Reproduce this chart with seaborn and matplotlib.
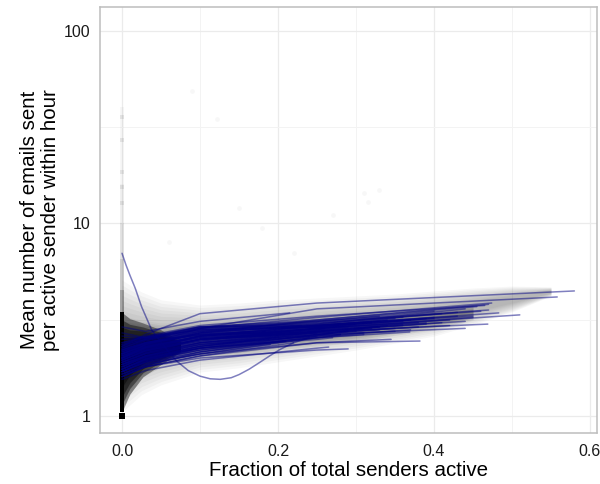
import numpy as np
import pandas as pd
import matplotlib
matplotlib.use("Agg")
import matplotlib.pyplot as plt
from matplotlib.ticker import FixedLocator, NullFormatter
import seaborn as sns

# ---- point cloud: hourly observations (fraction active vs. mean emails) ----
cloud_x = [0.0, 0.01, 0.025, 0.05, 0.1, 0.15, 0.2, 0.25, 0.3, 0.35, 0.4, 0.45, 0.5, 0.55]
halo_lo = [1.05, 1.14, 1.29, 1.45, 1.69, 1.78, 1.91, 2.05, 2.20, 2.39, 2.60, 2.97, 3.47, 4.20]
halo_hi = [5.09, 4.79, 4.41, 4.01, 3.77, 3.86, 4.01, 4.10, 4.20, 4.30, 4.46, 4.62, 4.73, 4.68]

core_x = [0.0, 0.01, 0.025, 0.05, 0.1, 0.15, 0.2, 0.25, 0.3, 0.35, 0.4, 0.45]
core_lo = [1.10, 1.29, 1.58, 1.80, 2.00, 2.07, 2.20, 2.31, 2.42, 2.63, 2.80, 3.15]
core_hi = [3.43, 3.23, 3.08, 2.97, 3.08, 3.15, 3.23, 3.31, 3.39, 3.47, 3.64, 3.77]

funnel_x = [0.0, 0.01, 0.027, 0.05, 0.075]
funnel_lo = [1.05, 1.30, 1.60, 1.85, 2.15]
funnel_hi = [3.45, 3.20, 3.04, 2.80, 2.45]

# hours where almost no sender was active pile up at x = 0
column_edges = [3.4, 4.5, 6.5, 10.0, 16.0, 40.0]
column_dots_y = [35.7, 18.5, 12.8, 27.0, 15.5]
stray_x = [0.09, 0.122, 0.31, 0.315, 0.33, 0.27, 0.06, 0.18, 0.22, 0.15]
stray_y = [49.0, 35.0, 14.4, 12.9, 15.0, 11.0, 8.0, 9.5, 7.0, 12.0]

# ---- smoothed fit for each group ----
knot_x = [0.0, 0.03, 0.1, 0.25]
line_end_x = [0.58, 0.558, 0.474, 0.470, 0.465, 0.510, 0.483, 0.469, 0.382, 0.290,
              0.369, 0.430, 0.410, 0.400, 0.390, 0.370, 0.360, 0.350, 0.340, 0.330,
              0.320, 0.310, 0.300, 0.290, 0.280, 0.270, 0.265, 0.260, 0.250, 0.240,
              0.230, 0.215, 0.210, 0.200, 0.190, 0.180, 0.170, 0.450, 0.440, 0.420,
              0.455, 0.400, 0.345, 0.310, 0.280, 0.330, 0.380, 0.360, 0.440, 0.470,
              0.420, 0.390, 0.360, 0.330, 0.310, 0.280, 0.260, 0.240, 0.220, 0.200,
              0.350, 0.370, 0.400, 0.440, 0.460, 0.300, 0.290, 0.270, 0.340, 0.380,
              0.410, 0.320, 0.250, 0.230, 0.210, 0.190, 0.360, 0.430, 0.310, 0.270,
              0.390, 0.350, 0.450, 0.330, 0.220]
line_y0 = [2.30, 2.00, 2.20, 2.10, 2.40, 1.90, 1.95, 1.80, 1.70, 1.65,
           1.85, 2.00, 2.10, 2.25, 1.90, 2.00, 1.75, 2.15, 1.85, 2.50,
           1.95, 1.60, 2.05, 1.90, 2.70, 1.70, 1.55, 2.20, 2.00, 1.85,
           2.30, 2.90, 1.75, 2.05, 1.65, 2.20, 1.90, 1.85, 2.05, 1.75,
           2.30, 2.60, 1.60, 2.35, 1.80, 2.10, 2.20, 1.95, 1.70, 2.15,
           2.05, 1.80, 2.10, 1.70, 2.00, 1.85, 2.15, 1.75, 2.00, 1.90,
           1.95, 1.70, 2.10, 1.95, 2.25, 1.80, 2.10, 1.95, 2.25, 1.85,
           1.75, 2.20, 1.80, 2.10, 1.70, 2.00, 2.35, 2.15, 1.65, 2.05,
           2.00, 1.75, 2.00, 2.40, 1.60]
line_y03 = [2.65, 2.35, 2.45, 2.35, 2.60, 2.15, 2.20, 2.05, 1.88, 1.80,
            2.02, 2.30, 2.40, 2.50, 2.12, 2.25, 1.98, 2.38, 2.08, 2.55,
            2.18, 1.82, 2.28, 2.10, 2.55, 1.92, 1.72, 2.40, 2.20, 2.05,
            2.52, 2.75, 1.95, 2.28, 1.85, 2.40, 2.10, 2.12, 2.35, 1.98,
            2.55, 2.55, 1.80, 2.50, 2.00, 2.30, 2.40, 2.18, 1.92, 2.40,
            2.28, 2.05, 2.35, 1.95, 2.22, 2.05, 2.38, 1.95, 2.25, 2.12,
            2.18, 1.90, 2.35, 2.18, 2.50, 2.02, 2.32, 2.15, 2.48, 2.05,
            1.97, 2.45, 2.02, 2.32, 1.90, 2.22, 2.58, 2.40, 1.85, 2.25,
            2.25, 1.98, 2.28, 2.55, 1.80]
line_y10 = [3.40, 2.85, 2.85, 2.70, 2.95, 2.50, 2.60, 2.35, 2.10, 2.00,
            2.25, 2.70, 2.80, 2.85, 2.45, 2.60, 2.30, 2.70, 2.40, 2.90,
            2.50, 2.15, 2.60, 2.40, 2.80, 2.25, 1.95, 2.70, 2.50, 2.35,
            2.90, 3.10, 2.20, 2.60, 2.10, 2.65, 2.35, 2.50, 2.75, 2.30,
            2.90, 2.80, 2.05, 2.75, 2.25, 2.55, 2.65, 2.50, 2.20, 2.75,
            2.55, 2.40, 2.65, 2.25, 2.50, 2.35, 2.65, 2.20, 2.55, 2.40,
            2.45, 2.15, 2.65, 2.45, 2.85, 2.30, 2.60, 2.40, 2.80, 2.30,
            2.25, 2.75, 2.30, 2.60, 2.15, 2.50, 2.90, 2.70, 2.10, 2.50,
            2.55, 2.25, 2.60, 2.85, 2.05]
line_y25 = [3.86, 3.60, 3.25, 3.15, 3.30, 2.85, 2.95, 2.75, 2.40, 2.20,
            2.55, 3.00, 3.05, 3.10, 2.85, 2.90, 2.75, 2.95, 2.80, 3.10,
            2.70, 2.55, 2.85, 2.65, 2.90, 2.50, 2.25, 2.80, np.nan, np.nan,
            np.nan, np.nan, np.nan, np.nan, np.nan, np.nan, np.nan, 2.85, 3.00, 2.70,
            3.15, 2.95, 2.40, 2.90, 2.55, 2.75, 2.85, 2.80, 2.65, 3.10,
            2.85, 2.75, 2.90, 2.65, 2.75, 2.60, 2.75, np.nan, np.nan, np.nan,
            2.70, 2.60, 2.90, 2.80, 3.05, 2.65, 2.80, 2.65, 2.95, 2.70,
            2.75, 2.90, np.nan, np.nan, np.nan, np.nan, 3.00, 2.95, 2.55, 2.72,
            2.85, 2.62, 2.95, 2.95, np.nan]
line_end_y = [4.46, 4.15, 3.86, 3.80, 3.75, 3.35, 3.43, 3.00, 2.45, 2.23,
              2.73, 3.45, 3.40, 3.50, 3.20, 3.15, 3.00, 3.20, 2.95, 3.30,
              2.85, 2.70, 3.00, 2.75, 3.00, 2.55, 2.28, 2.85, 2.70, 2.60,
              2.95, 3.43, 2.45, 2.75, 2.35, 2.70, 2.50, 3.25, 3.60, 2.95,
              3.70, 3.25, 2.50, 3.05, 2.65, 2.90, 3.05, 2.95, 2.85, 3.55,
              3.15, 3.00, 3.10, 2.80, 2.85, 2.65, 2.78, 2.55, 2.68, 2.60,
              2.85, 2.80, 3.20, 3.10, 3.50, 2.75, 2.90, 2.70, 3.15, 2.90,
              3.05, 3.05, 2.60, 2.72, 2.45, 2.62, 3.25, 3.30, 2.65, 2.78,
              3.05, 2.75, 3.30, 3.10, 2.40]

# one group whose fit dips well below the rest
dip_x = [0.0, 0.005, 0.01, 0.017, 0.025, 0.038, 0.05, 0.06, 0.07, 0.085, 0.1, 0.113,
         0.126, 0.14, 0.15, 0.163, 0.175, 0.19, 0.203, 0.22, 0.24, 0.28, 0.33]
dip_y = [7.0, 6.1, 5.4, 4.6, 3.7, 2.8, 2.42, 2.15, 1.93, 1.72, 1.61, 1.56,
         1.55, 1.58, 1.64, 1.75, 1.88, 2.06, 2.22, 2.40, 2.55, 2.75, 2.90]

# ---- long-form table of the fitted curves ----
rows = []
for i, xe in enumerate(line_end_x):
    ys = [line_y0[i], line_y03[i], line_y10[i], line_y25[i]]
    for kx, ky in zip(knot_x, ys):
        if kx < xe and not np.isnan(ky):
            rows.append((i, kx, ky))
    rows.append((i, xe, line_end_y[i]))
for kx, ky in zip(dip_x, dip_y):
    rows.append((len(line_end_x), kx, ky))
fits = pd.DataFrame(rows, columns=["group", "frac", "mean_emails"])

# ---- figure ----
sns.set_theme(style="white")
plt.rcParams["font.family"] = ["Liberation Sans", "DejaVu Sans"]

fig = plt.figure(figsize=(6.0, 4.84), dpi=100)
ax = fig.add_axes([0.1667, 0.1054, 0.8283, 0.8801])
ax.set_yscale("log")
ax.set_xlim(-0.0282, 0.609)
ax.set_ylim(0.816, 133)

# grid
ax.xaxis.set_major_locator(FixedLocator([0.0, 0.2, 0.4, 0.6]))
ax.xaxis.set_minor_locator(FixedLocator([0.1, 0.3, 0.5]))
ax.yaxis.set_major_locator(FixedLocator([1, 10, 100]))
ax.yaxis.set_minor_locator(FixedLocator([10 ** 0.5, 10 ** 1.5]))
ax.yaxis.set_minor_formatter(NullFormatter())
ax.set_xticklabels(["0.0", "0.2", "0.4", "0.6"])
ax.set_yticklabels(["1", "10", "100"])
ax.grid(True, which="major", color="#ebebeb", lw=0.9, zorder=0)
ax.grid(True, which="minor", color="#f3f3f3", lw=0.7, zorder=0)
ax.set_axisbelow(True)


def soft_band(x, lo, hi, levels, alpha):
    """Stack shrinking bands (in log space) so the cloud fades towards its edges."""
    x = np.asarray(x)
    lo = np.log10(lo)
    hi = np.log10(hi)
    mid = (lo + hi) / 2
    for s in levels:
        ax.fill_between(x, 10 ** (mid + (lo - mid) * s), 10 ** (mid + (hi - mid) * s),
                        color="black", alpha=alpha, lw=0, zorder=1)


# soft halo, denser core, near-black funnel next to x = 0
soft_band(cloud_x, halo_lo, halo_hi, np.linspace(1.0, 0.3, 10), 0.03)
soft_band(core_x, core_lo, core_hi, np.linspace(1.0, 0.3, 6), 0.05)
soft_band(funnel_x, funnel_lo, funnel_hi, [1.0, 0.85, 0.7, 0.5], 0.4)
ax.fill_betweenx([funnel_lo[0], funnel_hi[0]], -0.0025, 0.003, color="black", lw=0, zorder=1)

# column of zero-activity hours
col_alpha = [0.35, 0.2, 0.11, 0.06, 0.03]
for (y0, y1), a in zip(zip(column_edges[:-1], column_edges[1:]), col_alpha):
    ax.fill_betweenx([y0, y1], -0.0025, 0.0025, color="black", alpha=a, lw=0, zorder=1)
sns.scatterplot(x=[0.0] * len(column_dots_y), y=column_dots_y, ax=ax, color="black",
                alpha=0.08, s=9, marker="s", linewidth=0, zorder=2, legend=False)
sns.scatterplot(x=stray_x, y=stray_y, ax=ax, color="black", alpha=0.03, s=12,
                linewidth=0, zorder=2, legend=False)
sns.scatterplot(x=[0.0], y=[1.0], ax=ax, color="black", s=18, marker="s",
                linewidth=0, zorder=3, legend=False)

# fitted curves
sns.lineplot(data=fits, x="frac", y="mean_emails", units="group", estimator=None,
             sort=False, color="navy", alpha=0.5, linewidth=1.1, ax=ax,
             legend=False, zorder=4)

# frame, ticks, labels
for sp in ax.spines.values():
    sp.set_visible(True)
    sp.set_color("#bdbdbd")
    sp.set_linewidth(1.1)
ax.tick_params(axis="both", which="major", length=4.5, width=0.8, color="#4d4d4d",
               labelsize=11.5, labelcolor="#1a1a1a", direction="out")
ax.tick_params(axis="x", which="major", pad=3.5)
ax.tick_params(axis="y", which="major", pad=2.5)
ax.tick_params(axis="both", which="minor", length=0)
ax.set_xlabel("Fraction of total senders active", fontsize=14.8, color="black")
ax.set_ylabel("Mean number of emails sent\nper active sender within hour",
              fontsize=14.8, color="black", linespacing=1.15)
ax.xaxis.set_label_coords(0.5, -0.066)
ax.yaxis.set_label_coords(-0.08, 0.5)

fig.savefig("out.png", dpi=100, facecolor="white")
